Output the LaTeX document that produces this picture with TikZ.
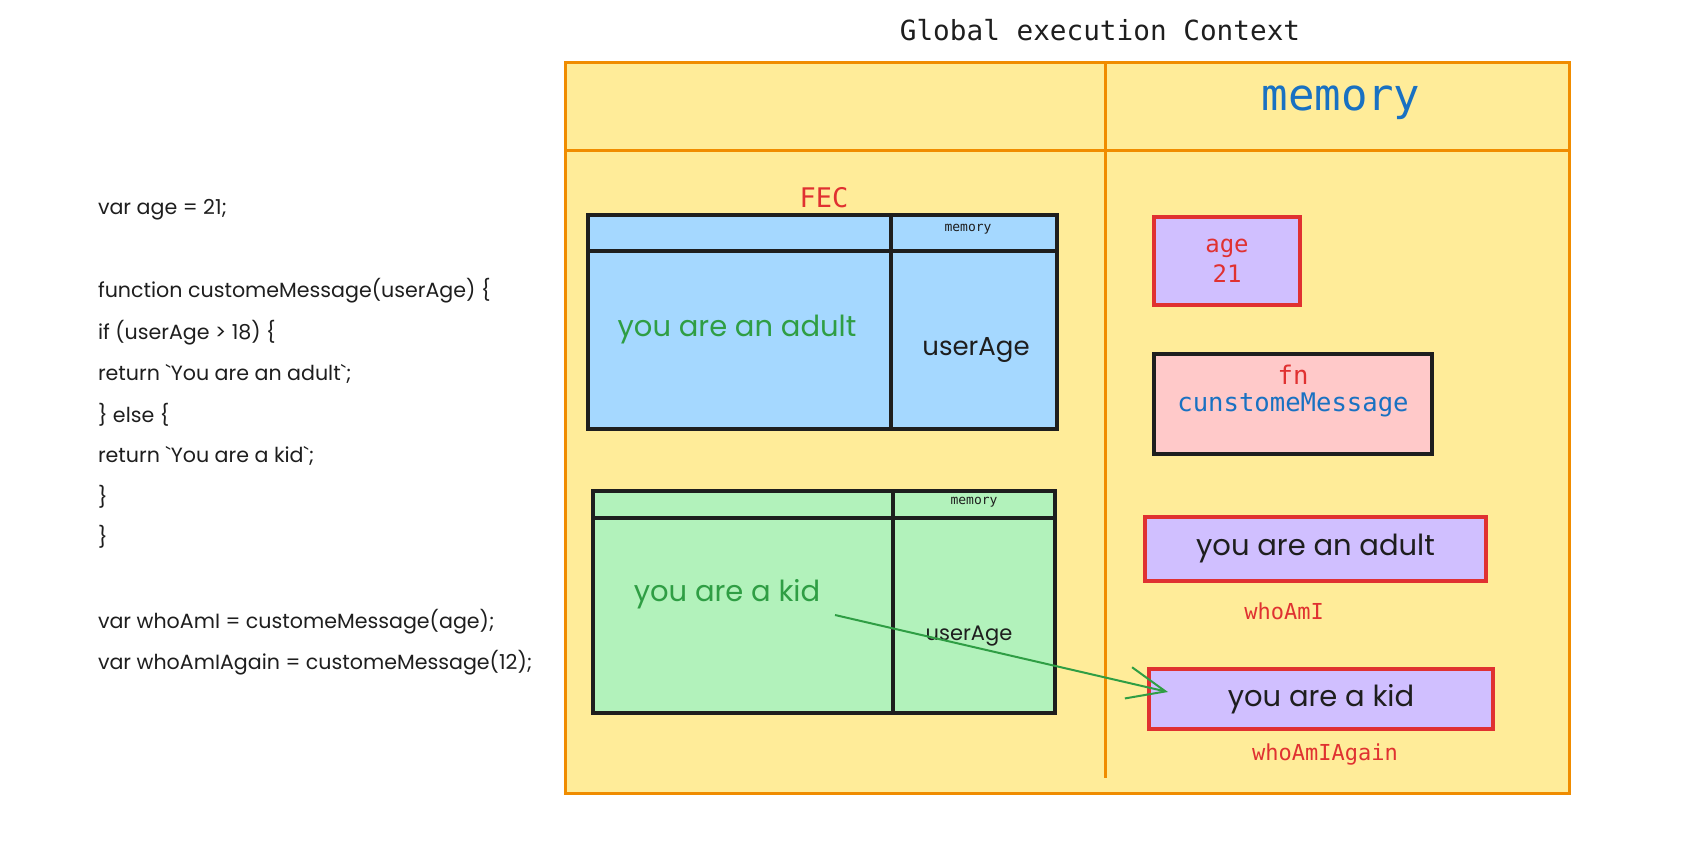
\documentclass[tikz,border=0pt]{standalone}
\usepackage{fontspec}
\usepackage{tikz}
\usetikzlibrary{arrows.meta}
\setmainfont{Poppins}
\newfontfamily\codefont{DejaVu Sans Mono}
\definecolor{gecfill}{HTML}{FFEC99}
\definecolor{gecline}{HTML}{F08C00}
\definecolor{fecblue}{HTML}{A5D8FF}
\definecolor{fecgreen}{HTML}{B2F2BB}
\definecolor{valfill}{HTML}{D0BFFF}
\definecolor{fnfill}{HTML}{FFC9C9}
\definecolor{ink}{HTML}{1E1E1E}
\definecolor{redink}{HTML}{E03131}
\definecolor{blueink}{HTML}{1971C2}
\definecolor{greenink}{HTML}{2F9E44}

\begin{document}
\begin{tikzpicture}[x=1pt,y=-1pt]
\tikzstyle{every node}=[inner sep=0pt,outer sep=0pt]
\tikzstyle{code}=[anchor=west,text=ink,font=\fontsize{20.6}{24}\selectfont]
\tikzstyle{hand}=[text=ink,font=\fontsize{29}{34}\selectfont]
\tikzstyle{mono}=[font=\codefont\fontsize{24}{30}\selectfont,align=center]
\tikzstyle{gecline}=[draw=gecline,line width=3pt]
\tikzstyle{fecbox}=[draw=ink,line width=3.5pt,rectangle]
\tikzstyle{valbox}=[draw=redink,line width=3.5pt,fill=valfill,rectangle]
\useasboundingbox (0,0) rectangle (1704,840);
\node[mono,text=ink,font=\codefont\fontsize{27.7}{32}\selectfont] (title) at (1100,30) {Global execution Context};
\node[gecline,fill=gecfill,minimum width=1004pt,minimum height=730pt] (gec) at (1067,428) {};
\draw[gecline] (565,150) -- (1569,150);
\draw[gecline] (1105,63) -- (1105,778);
\node[mono,text=blueink,font=\codefont\fontsize{44}{50}\selectfont] (gecmem) at (1341,103) {memory};
\foreach \y/\line in {210/{var age = 21;},
  291/{function customeMessage(userAge) \{},
  333/{if (userAge > 18) \{},
  374/{return \textasciigrave You are an adult\textasciigrave;},
  415/{\} else \{},
  456/{return \textasciigrave You are a kid\textasciigrave;},
  497/{\}},
  537/{\}},
  622/{var whoAmI = customeMessage(age);},
  663/{var whoAmIAgain = customeMessage(12);}}
  \node[code] (code\y) at (98,\y) {\line};
\node[mono,text=redink,font=\codefont\fontsize{27}{32}\selectfont] (fec) at (824,198) {FEC};
\node[fecbox,fill=fecblue,minimum width=469pt,minimum height=214pt] (adultfec) at (822.5,322) {};
\draw[ink,line width=3.5pt] (588,251) -- (1057,251);
\draw[ink,line width=3.5pt] (891,215) -- (891,429);
\node[mono,text=ink,font=\codefont\fontsize{13}{15}\selectfont] (adultmem) at (968,229) {memory};
\node[hand,text=greenink] (adulttxt) at (737,330) {you are an adult};
\node[hand,font=\fontsize{26}{30}\selectfont] (adultarg) at (976,350) {userAge};
\node[fecbox,fill=fecgreen,minimum width=462pt,minimum height=222pt] (kidfec) at (824,602) {};
\draw[ink,line width=3.5pt] (593,518) -- (1055,518);
\draw[ink,line width=3.5pt] (893,491) -- (893,713);
\node[mono,text=ink,font=\codefont\fontsize{13}{15}\selectfont] (kidmem) at (974,502) {memory};
\node[hand,text=greenink] (kidtxt) at (727,594) {you are a kid};
\node[hand,font=\fontsize{21}{25}\selectfont] (kidarg) at (969,636) {userAge};
\node[valbox,minimum width=146pt,minimum height=88pt,mono,text=redink] (age) at (1227,261) {age\\21};
\node[fecbox,fill=fnfill,minimum width=278pt,minimum height=100pt] (fn) at (1293,404) {};
\node[mono,text=redink,font=\codefont\fontsize{25.6}{30}\selectfont] (fnname) at (1293,375) {fn};
\node[mono,text=blueink,font=\codefont\fontsize{25.6}{30}\selectfont] (fnbody) at (1293,405) {cunstomeMessage};
\node[valbox,minimum width=341pt,minimum height=64pt,hand] (whoami) at (1315.5,549) {you are an adult};
\node[mono,text=redink,font=\codefont\fontsize{22}{26}\selectfont] (whoamilbl) at (1284,611) {whoAmI};
\node[valbox,minimum width=344pt,minimum height=60pt,hand] (whoamiagain) at (1321,699) {you are a kid};
\node[mono,text=redink,font=\codefont\fontsize{22}{26}\selectfont] (whoamiagainlbl) at (1325,754) {whoAmIAgain};
\coordinate (kidfrom) at (835,615);
\coordinate (kidto) at (1168,692);
\draw[greenink,line width=2pt,-{Straight Barb[length=38pt,width=32pt]}] (kidfrom) -- (kidto);
\end{tikzpicture}
\end{document}
